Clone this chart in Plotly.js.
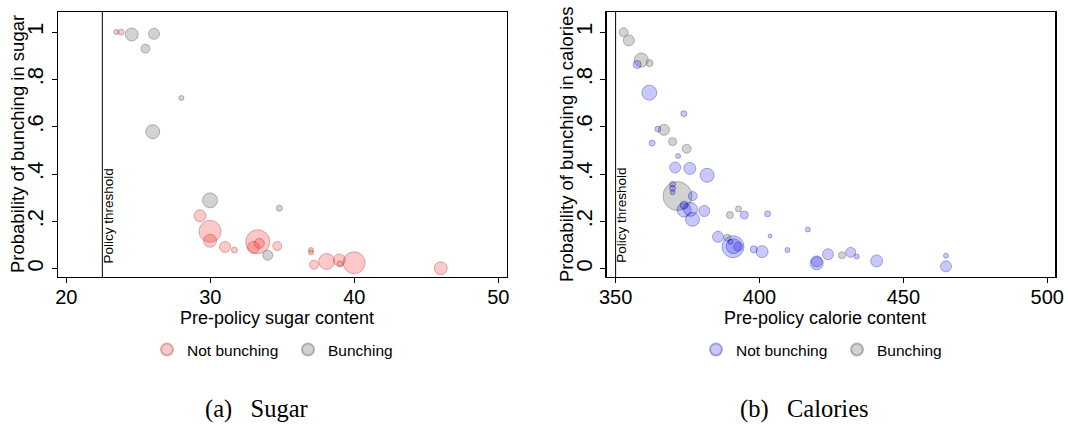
<!DOCTYPE html>
<html>
<head>
<meta charset="utf-8">
<script src="https://cdn.plot.ly/plotly-3.0.1.min.js"></script>
<style>html,body{margin:0;padding:0;background:#fff;}#chart{width:1068px;height:425px;}</style>
</head>
<body>
<div id="chart"></div>
<script>
// ---- Data: Sugar panel ----
const sugarNotX = [23.8, 29.28, 29.98, 29.98, 31.02, 31.67, 33.29, 33.4, 32.99, 34.65, 36.99, 36.99, 37.2, 38.08, 38.96, 39.0, 39.98, 46.0];
const sugarNotY = [1.0, 0.224, 0.158, 0.118, 0.092, 0.079, 0.114, 0.107, 0.09, 0.096, 0.079, 0.069, 0.017, 0.031, 0.037, 0.02, 0.025, 0.002];
const sugarNotW = [6, 12, 22, 13, 11, 6, 24, 10, 12, 9, 5, 5, 9, 16, 12, 6, 22, 13];

const sugarBunX = [23.47, 24.54, 26.09, 25.49, 27.99, 26.0, 29.98, 33.98, 34.79];
const sugarBunY = [1.0, 0.99, 0.993, 0.93, 0.722, 0.579, 0.289, 0.057, 0.256];
const sugarBunW = [5, 13, 11, 9, 5, 14, 15, 10, 6];

// ---- Data: Calories panel ----
const calNotX = [357.5, 361.7, 373.7, 364.7, 362.7, 371.7, 370.7, 375.8, 381.8, 369.8, 369.8, 369.8, 376.8, 373.8, 373.8, 376.0, 376.7, 380.8, 394.7, 402.8, 385.6, 389.9, 390.8, 391.0, 392.6, 398.0, 400.9, 403.7, 416.8, 409.7, 419.9, 419.9, 423.8, 431.7, 433.8, 440.7, 464.8, 464.8];
const calNotY = [0.863, 0.744, 0.655, 0.59, 0.531, 0.476, 0.428, 0.424, 0.395, 0.357, 0.34, 0.323, 0.307, 0.269, 0.248, 0.251, 0.209, 0.244, 0.227, 0.232, 0.135, 0.114, 0.093, 0.095, 0.093, 0.082, 0.072, 0.138, 0.166, 0.079, 0.023, 0.031, 0.061, 0.069, 0.052, 0.033, 0.055, 0.01];
const calNotW = [8, 15, 6, 6, 6, 5, 11, 12, 14, 6, 6, 5, 9, 8, 14, 14, 14, 11, 8, 6, 11, 5, 22, 15, 9, 7, 12, 4, 5, 5, 13, 11, 11, 10, 5, 12, 5, 11];

const calBunX = [352.8, 354.6, 358.9, 361.8, 366.8, 369.8, 374.7, 371.5, 389.7, 392.7, 388.8, 428.7];
const calBunY = [0.999, 0.965, 0.882, 0.869, 0.587, 0.537, 0.507, 0.307, 0.227, 0.252, 0.131, 0.057];
const calBunW = [9, 11, 14, 7, 11, 8, 9, 29, 7, 6, 7, 7];

// ---- Labels ----
const yTickVals = [0, 0.2, 0.4, 0.6, 0.8, 1];
const yTickText = ["0", ".2", ".4", ".6", ".8", "1"];
const sugarTicks = [20, 30, 40, 50];
const calTicks = [350, 400, 450, 500];
const sugarThreshold = 22.5;
const calThreshold = 350;

const FONT = "Liberation Sans, Arial, sans-serif";
const SERIF = "Liberation Serif, Times New Roman, serif";
const RED = {fill: "rgba(255,0,0,0.3)", edge: "rgba(130,20,20,0.45)"};
const BLUE = {fill: "rgba(0,0,255,0.3)", edge: "rgba(0,0,110,0.45)"};
const GRAY = {fill: "rgba(128,128,128,0.5)", edge: "rgba(60,60,60,0.5)"};

function sc(x, y, w, col, name, xa, ya, leg, rank) {
  return {
    type: "scatter", mode: "markers", x: x, y: y, name: name,
    xaxis: xa, yaxis: ya, legend: leg, legendrank: rank,
    marker: {size: w, sizemode: "diameter", color: col.fill, line: {color: col.edge, width: 1}},
    hoverinfo: "x+y"
  };
}

const traces = [
  sc(sugarBunX, sugarBunY, sugarBunW, GRAY, "Bunching", "x", "y", "legend", 2),
  sc(sugarNotX, sugarNotY, sugarNotW, RED, "Not bunching", "x", "y", "legend", 1),
  sc(calBunX, calBunY, calBunW, GRAY, "Bunching", "x2", "y2", "legend2", 2),
  sc(calNotX, calNotY, calNotW, BLUE, "Not bunching", "x2", "y2", "legend2", 1)
];

const yDom = [1 - 277/425, 1 - 12/425];
function xAx(dom, range, ticks) {
  return {
    domain: dom, range: range, tickvals: ticks, ticks: "outside", ticklen: 5, tickwidth: 1,
    tickcolor: "#000", showline: true, mirror: true, linecolor: "#000", linewidth: 1.3,
    showgrid: false, zeroline: false, ticklabelstandoff: -3,
    tickfont: {family: FONT, size: 20, color: "#000"}
  };
}
function yAx(anchor) {
  return {
    domain: yDom, range: [-0.035, 1.085], tickvals: yTickVals, ticktext: yTickText, tickangle: -90,
    ticks: "outside", ticklen: 5, tickwidth: 1, tickcolor: "#000", anchor: anchor,
    showline: true, mirror: true, linecolor: "#000", linewidth: 1.3,
    showgrid: false, zeroline: false, tickfont: {family: FONT, size: 22, color: "#000"}
  };
}

function legendBox(xl) {
  return {
    orientation: "h", x: xl/1068, xanchor: "left", y: 1 - 350/425, yanchor: "middle",
    font: {family: FONT, size: 15.5, color: "#000"}, itemsizing: "constant",
    bgcolor: "rgba(0,0,0,0)", traceorder: "normal", itemwidth: 30, entrywidth: 96
  };
}

function txt(x, y, text, size, angle, family, yanchor) {
  return {xref: "paper", yref: "paper", x: x/1068, y: 1 - y/425, xanchor: "center", yanchor: yanchor || "middle",
          text: text, textangle: angle, showarrow: false, font: {family: family, size: size, color: "#000"}};
}

const layout = {
  width: 1068, height: 425,
  margin: {l: 0, r: 0, t: 0, b: 0},
  paper_bgcolor: "#fff", plot_bgcolor: "#fff",
  showlegend: true,
  xaxis: Object.assign(xAx([58/1068, 506.7/1068], [19.42, 50.58], sugarTicks), {anchor: "y"}),
  yaxis: yAx("x"),
  xaxis2: Object.assign(xAx([606.7/1068, 1055.3/1068], [346.9, 502.8], calTicks), {anchor: "y2"}),
  yaxis2: yAx("x2"),
  legend: legendBox(147),
  legend2: legendBox(696),
  shapes: [
    {type: "line", xref: "x", yref: "y domain", x0: sugarThreshold, x1: sugarThreshold, y0: 0, y1: 1, line: {color: "#000", width: 1}},
    {type: "line", xref: "x2", yref: "y2 domain", x0: calThreshold, x1: calThreshold, y0: 0, y1: 1, line: {color: "#000", width: 1}}
  ],
  annotations: [
    {xref: "x", yref: "y", x: sugarThreshold, y: 0.015, xanchor: "left", yanchor: "bottom", xshift: -3, textangle: -90,
     text: "Policy threshold", showarrow: false, font: {family: FONT, size: 13.5, color: "#000"}},
    {xref: "x2", yref: "y2", x: calThreshold, y: 0.015, xanchor: "left", yanchor: "bottom", xshift: -3, textangle: -90,
     text: "Policy threshold", showarrow: false, font: {family: FONT, size: 13.5, color: "#000"}},
    txt(17, 144, "Probability of bunching in sugar", 18.5, -90, FONT),
    txt(566, 144, "Probability of bunching in calories", 18.5, -90, FONT),
    txt(277, 318, "Pre-policy sugar content", 18, 0, FONT),
    txt(825, 318, "Pre-policy calorie content", 18, 0, FONT),
    txt(256, 425, "(a)&nbsp;&nbsp;&nbsp;Sugar", 24.5, 0, SERIF, "bottom"),
    txt(804, 425, "(b)&nbsp;&nbsp;&nbsp;Calories", 24.5, 0, SERIF, "bottom")
  ]
};

Plotly.newPlot("chart", traces, layout, {displayModeBar: false, staticPlot: true});
</script>
</body>
</html>
